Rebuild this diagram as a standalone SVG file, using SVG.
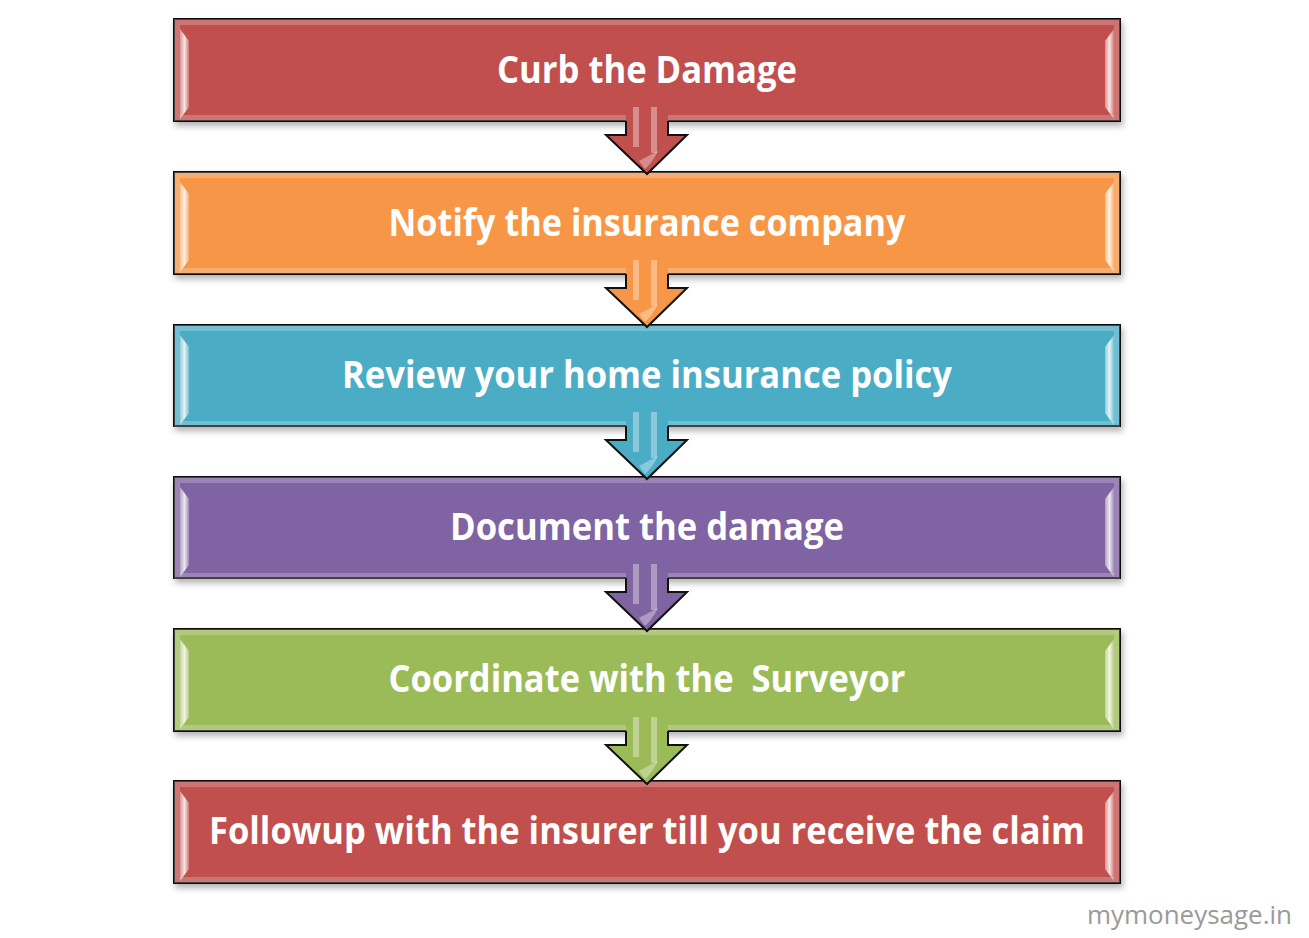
<svg xmlns="http://www.w3.org/2000/svg" width="1309" height="938" viewBox="0 0 1309 938">
<style>
.box{stroke:#111;stroke-width:2;filter:url(#sh)}
.bevel{fill:none;stroke:#fff;stroke-opacity:0.22;stroke-width:6}
.hl{fill:url(#hlg)}
.lbl{font-family:"Open Sans","Liberation Sans",sans-serif;font-weight:bold;font-size:38px;fill:#fff;text-anchor:middle;white-space:pre}
.aout{fill:none;stroke:#111;stroke-width:2;stroke-linejoin:miter}
.stripe{fill:#fff;fill-opacity:0.35}
.wm{font-family:"Open Sans","Liberation Sans",sans-serif;font-size:25px;fill:#9a9a9a}
.red{fill:#C0504D}.org{fill:#F79646}.blu{fill:#4BACC6}.pur{fill:#8064A2}.grn{fill:#9BBB59}
</style>
<defs>
<filter id="sh" x="-5%" y="-20%" width="110%" height="150%">
<feDropShadow dx="2" dy="4" stdDeviation="3" flood-color="#000" flood-opacity="0.3"/>
</filter>
<linearGradient id="hlg" x1="0" y1="0" x2="1" y2="0">
<stop offset="0" stop-color="#fff" stop-opacity="0.4"/>
<stop offset="0.5" stop-color="#fff" stop-opacity="0.85"/>
<stop offset="1" stop-color="#fff" stop-opacity="0.25"/>
</linearGradient>
<g id="box">
<rect class="bevel" x="177" y="3" width="940" height="96"/>
<polygon class="hl" points="180,10 189,22 189,88 180,100"/>
<polygon class="hl" points="1114,10 1105,22 1105,88 1114,100"/>
</g>
<g id="arr">
<polygon points="626,-14 668,-14 668,14 687,14 647,53 606,14 626,14"/>
<rect class="stripe" x="633" y="-14" width="6" height="40"/>
<rect class="stripe" x="651" y="-14" width="6" height="46"/>
<path class="stripe" d="M639,40 Q650,34 658,30 Q652,42 645,48 Z"/>
<path class="aout" d="M626,0 V14 H606 L647,53 L687,14 H668 V0"/>
</g>
</defs>

<g id="node1">
<rect class="box red" x="174" y="19" width="946" height="102"/>
<use href="#box" y="19"/>
<text class="lbl" x="647" y="83" textLength="300" lengthAdjust="spacingAndGlyphs">Curb the Damage</text>
</g>
<g id="node2">
<rect class="box org" x="174" y="172" width="946" height="102"/>
<use href="#box" y="172"/>
<text class="lbl" x="647" y="236" textLength="517" lengthAdjust="spacingAndGlyphs">Notify the insurance company</text>
</g>
<g id="node3">
<rect class="box blu" x="174" y="325" width="946" height="101"/>
<use href="#box" y="325"/>
<text class="lbl" x="647" y="388" textLength="610" lengthAdjust="spacingAndGlyphs">Review your home insurance policy</text>
</g>
<g id="node4">
<rect class="box pur" x="174" y="477" width="946" height="101"/>
<use href="#box" y="477"/>
<text class="lbl" x="647" y="540" textLength="394" lengthAdjust="spacingAndGlyphs">Document the damage</text>
</g>
<g id="node5">
<rect class="box grn" x="174" y="629" width="946" height="102"/>
<use href="#box" y="629"/>
<text class="lbl" x="647" y="692" textLength="517" lengthAdjust="spacingAndGlyphs">Coordinate with the  Surveyor</text>
</g>
<g id="node6">
<rect class="box red" x="174" y="781" width="946" height="102"/>
<use href="#box" y="781"/>
<text class="lbl" x="647" y="844" textLength="876" lengthAdjust="spacingAndGlyphs">Followup with the insurer till you receive the claim</text>
</g>

<g id="connectors">
<use href="#arr" class="red" y="121"/>
<use href="#arr" class="org" y="274"/>
<use href="#arr" class="blu" y="426"/>
<use href="#arr" class="pur" y="578"/>
<use href="#arr" class="grn" y="731"/>
</g>

<text class="wm" x="1087" y="924" textLength="205" lengthAdjust="spacingAndGlyphs">mymoneysage.in</text>
</svg>
